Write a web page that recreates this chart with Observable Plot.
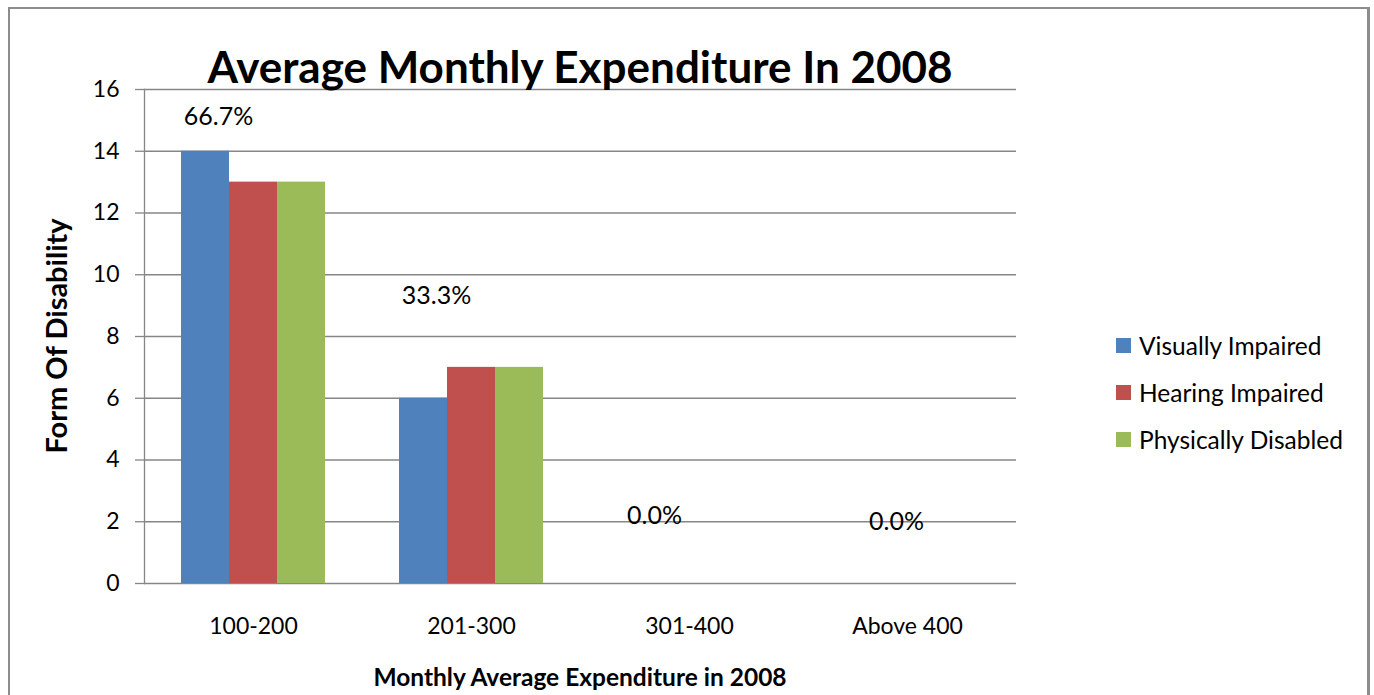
<!DOCTYPE html>
<html><head><meta charset="utf-8">
<script src="https://cdn.jsdelivr.net/npm/d3@7"></script>
<script src="https://cdn.jsdelivr.net/npm/@observablehq/plot@0.6"></script>
<style>
body{margin:0;background:#fff;font-family:Lato,"Open Sans",sans-serif;}
#wrap{position:relative;width:1374px;height:695px;overflow:hidden;background:#fff;}
#border{position:absolute;left:8px;top:7px;width:1362px;height:740px;border-left:2px solid #8c8c8c;border-top:2px solid #8c8c8c;border-right:3px solid #8c8c8c;box-sizing:border-box;}
#chart{position:absolute;left:0;top:0;}
#title{position:absolute;left:143px;width:874px;top:39px;text-align:center;font-weight:bold;font-size:44px;line-height:54px;color:#000;white-space:nowrap;}
#ylab{position:absolute;left:55px;top:336px;transform:translate(-50%,-50%) rotate(-90deg);font-weight:bold;font-size:29px;white-space:nowrap;color:#000;}
#xlab{position:absolute;left:143px;width:874px;top:662px;text-align:center;font-weight:bold;font-size:24.5px;line-height:30px;white-space:nowrap;color:#000;}
#legend{position:absolute;left:1116px;top:322px;}
.li{display:flex;align-items:center;height:47px;font-size:24.5px;color:#000;white-space:nowrap;}
.sw{width:15px;height:15px;margin-right:8px;flex:none;}
</style>
</head><body>
<div id="wrap">
  <div id="chart"></div>
  <div id="border"></div>
  <div id="title"></div>
  <div id="ylab"></div>
  <div id="xlab"></div>
  <div id="legend"></div>
</div>
<script>
const categories = ["100-200", "201-300", "301-400", "Above 400"];
const series = ["Visually Impaired", "Hearing Impaired", "Physically Disabled"];
const visuallyImpaired = [14, 6, 0, 0];
const hearingImpaired = [13, 7, 0, 0];
const physicallyDisabled = [13, 7, 0, 0];
const percentLabels = ["66.7%", "33.3%", "0.0%", "0.0%"];
const percentLabelY = [15.1, 9.3, 2.2, 2.0];
const colors = ["#4F81BD", "#C0504D", "#9BBB59"];
const yTicks = [0, 2, 4, 6, 8, 10, 12, 14, 16];
const titleText = "Average Monthly Expenditure In 2008";
const yTitle = "Form Of Disability";
const xTitle = "Monthly Average Expenditure in 2008";

const seriesValues = [visuallyImpaired, hearingImpaired, physicallyDisabled];
const rows = [];
categories.forEach((c, i) => series.forEach((s, j) => rows.push({category: c, series: s, value: seriesValues[j][i]})));
const labels = categories.map((c, i) => ({category: c, label: percentLabels[i], y: percentLabelY[i], last: i === categories.length - 1}));

const font = "Lato, 'Open Sans', sans-serif";
const chart = Plot.plot({
  width: 1374, height: 695,
  marginLeft: 143, marginRight: 357, marginTop: 89, marginBottom: 112,
  style: {fontFamily: font, fontSize: "23px", color: "#000", background: "transparent", overflow: "visible"},
  fx: {domain: categories, padding: 0, label: null, axis: null},
  x: {domain: series, paddingInner: 0, paddingOuter: 0.745, axis: null},
  y: {domain: [0, 16], label: null, axis: null},
  color: {domain: series, range: colors},
  marks: [
    Plot.ruleY(yTicks, {stroke: "#868686", strokeWidth: 1.3, strokeOpacity: 1}),
    Plot.barY(rows, {fx: "category", x: "series", y: "value", fill: "series"}),
    Plot.axisY({ticks: yTicks, tickSize: 9, tickPadding: 16, fontSize: 23, stroke: "#868686", strokeWidth: 1.3, strokeOpacity: 1, label: null}),
    Plot.frame({anchor: "left", stroke: "#868686", strokeWidth: 1.3, strokeOpacity: 1, facetAnchor: "left"}),
    Plot.axisFx({anchor: "bottom", tickSize: 0, tickPadding: 34, fontSize: 23, label: null}),
    Plot.text(labels.filter(d => !d.last), {fx: "category", x: () => series[0], y: "y", text: "label", dx: 13, fontSize: 25, fill: "#000"}),
    Plot.text(labels.filter(d => d.last), {fx: "category", x: () => series[0], y: "y", text: "label", dx: 37, fontSize: 25, fill: "#000"})
  ]
});
document.getElementById("chart").appendChild(chart);
document.getElementById("title").textContent = titleText;
document.getElementById("ylab").textContent = yTitle;
document.getElementById("xlab").textContent = xTitle;
const legend = document.getElementById("legend");
series.forEach((s, i) => {
  const row = document.createElement("div"); row.className = "li";
  const sw = document.createElement("div"); sw.className = "sw"; sw.style.background = colors[i];
  const t = document.createElement("span"); t.textContent = s;
  row.appendChild(sw); row.appendChild(t); legend.appendChild(row);
});
</script>
</body></html>
